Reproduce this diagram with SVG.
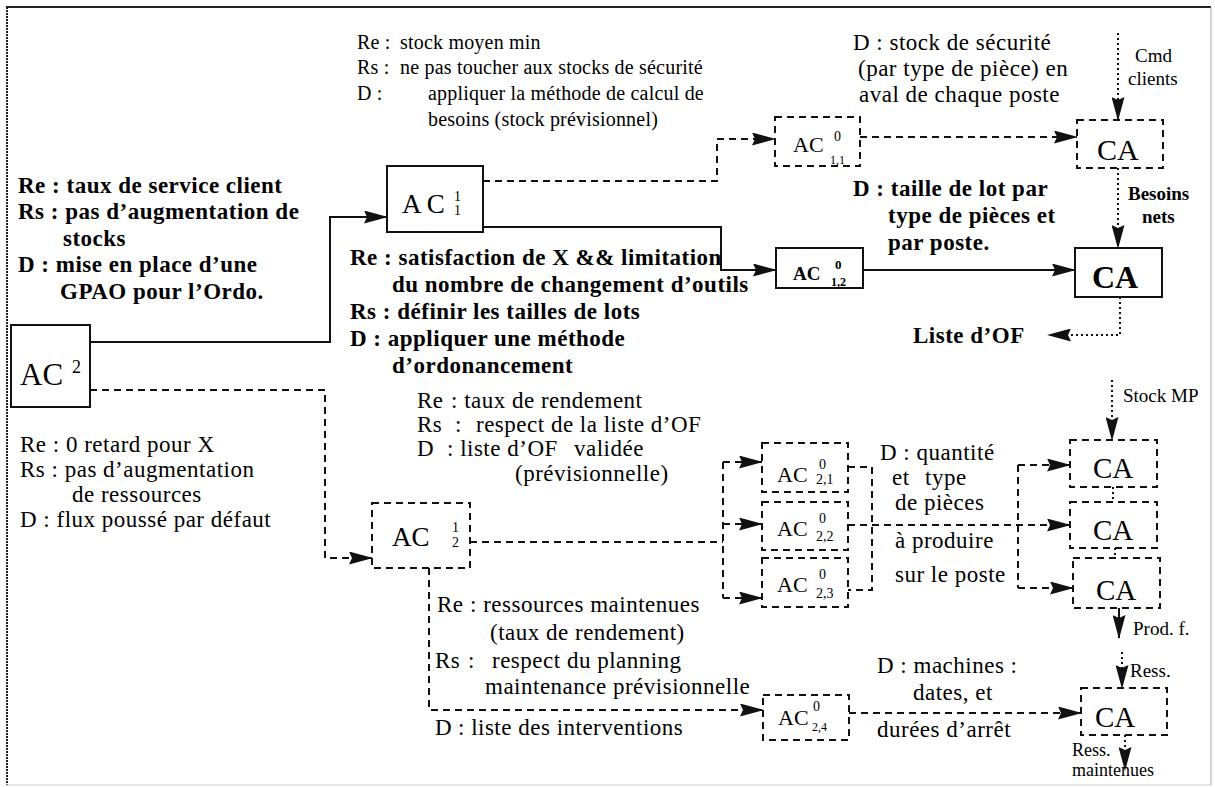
<svg xmlns="http://www.w3.org/2000/svg" width="1215" height="787" viewBox="0 0 1215 787">
<style>
text{font-family:"Liberation Serif","Times New Roman",serif;fill:#000}
.r20{font-size:20px;letter-spacing:0.2px}
.r23{font-size:23px;letter-spacing:0.5px}
.b23{font-size:23px;font-weight:bold;letter-spacing:0.5px}
.s19{font-size:19px}
.bs19{font-size:19px;font-weight:bold}
.s17{font-size:18px}
.sup{font-size:14px}
.bsup{font-size:13px;font-weight:bold}
.n{fill:#fff;stroke:#111;stroke-width:2}
.nd{fill:#fff;stroke:#111;stroke-width:2;stroke-dasharray:7 5}
.c{fill:none;stroke:#111;stroke-width:2}
.cd{fill:none;stroke:#111;stroke-width:2;stroke-dasharray:7 5}
.co{fill:none;stroke:#111;stroke-width:2;stroke-dasharray:2 3}
</style>
<defs>
<marker id="ah" viewBox="0 0 24 13" markerWidth="24" markerHeight="13" refX="23" refY="6.5" orient="auto" markerUnits="userSpaceOnUse">
<path d="M0,0 L24,6.5 L0,13 L3,6.5 z" fill="#111"/>
</marker>
</defs>
<rect width="1215" height="787" fill="#fff"/>
<g id="frame">
<line x1="6" y1="7" x2="1211" y2="7" stroke="#222" stroke-width="2"/>
<line x1="7" y1="7" x2="7" y2="785" stroke="#222" stroke-width="2" stroke-dasharray="2 1"/>
<line x1="1211" y1="7" x2="1211" y2="785" stroke="#aaa" stroke-width="1"/>
<line x1="6" y1="785" x2="1211" y2="785" stroke="#ccc" stroke-width="1"/>
</g>
<g id="connectors">
<path class="c" d="M90,342 H330 V217 H387" marker-end="url(#ah)"/>
<path class="cd" d="M483,181 H717 V139 H775" marker-end="url(#ah)"/>
<path class="c" d="M483,227 H721 V270 H776" marker-end="url(#ah)"/>
<path class="cd" d="M860,137 H1077" marker-end="url(#ah)"/>
<path class="c" d="M863,270 H1075" marker-end="url(#ah)"/>
<path class="co" d="M1118,33 V120" marker-end="url(#ah)"/>
<path class="co" d="M1118,168 V248" marker-end="url(#ah)"/>
<path class="co" d="M1120,297 V335 H1048" marker-end="url(#ah)"/>
<path class="cd" d="M90,390 H325 V558 H372" marker-end="url(#ah)"/>
<path class="cd" d="M470,542 H723"/>
<path class="cd" d="M723,462 V598"/>
<path class="cd" d="M723,462 H762" marker-end="url(#ah)"/>
<path class="cd" d="M723,524 H762" marker-end="url(#ah)"/>
<path class="cd" d="M723,598 H762" marker-end="url(#ah)"/>
<path class="cd" d="M848,467 H872 V590 H848"/>
<path class="cd" d="M848,525 H1070" marker-end="url(#ah)"/>
<path class="cd" d="M1018,465 V588"/>
<path class="cd" d="M1018,465 H1070" marker-end="url(#ah)"/>
<path class="cd" d="M1018,588 H1073" marker-end="url(#ah)"/>
<path class="co" d="M1112,380 V440" marker-end="url(#ah)"/>
<path class="co" d="M1113,487 V502"/>
<path class="co" d="M1115,548 V558"/>
<path class="c" d="M1119,608 V638" marker-end="url(#ah)"/>
<path class="co" d="M1122,652 V688" marker-end="url(#ah)"/>
<path class="co" d="M1125,735 V770" marker-end="url(#ah)"/>
<path class="cd" d="M429,568 V710 H763" marker-end="url(#ah)"/>
<path class="cd" d="M849,713 H1081" marker-end="url(#ah)"/>
</g>
<g id="AC2">
<rect class="n" x="11" y="325" width="79" height="82"/>
<text x="20" y="385" style="font-size:31px">AC</text>
<text x="72" y="373" style="font-size:18px">2</text>
</g>
<g id="AC11">
<rect class="n" x="387" y="166" width="96" height="66"/>
<text x="402" y="213" style="font-size:27px">A C</text>
<text x="454" y="201" class="sup">1</text>
<text x="454" y="215" class="sup">1</text>
</g>
<g id="AC011">
<rect class="nd" x="775" y="117" width="85" height="49"/>
<text x="793" y="152" style="font-size:22px">AC</text>
<text x="834" y="141" class="sup">0</text>
<text x="830" y="164" style="font-size:12px">1,1</text>
</g>
<g id="AC012">
<rect class="n" x="776" y="248" width="87" height="40"/>
<text x="793" y="280" style="font-size:19px;font-weight:bold">AC</text>
<text x="835" y="269" class="bsup">0</text>
<text x="831" y="286" style="font-size:12px;font-weight:bold">1,2</text>
</g>
<g id="CA_top">
<rect class="nd" x="1077" y="120" width="86" height="48"/>
<text x="1097" y="160" style="font-size:30px">CA</text>
</g>
<g id="CA_bold">
<rect class="n" x="1075" y="248" width="87" height="49"/>
<text x="1092" y="288" style="font-size:32px;font-weight:bold">CA</text>
</g>
<g id="AC12">
<rect class="nd" x="372" y="503" width="98" height="65"/>
<text x="392" y="546" style="font-size:27px">AC</text>
<text x="452" y="532" class="sup">1</text>
<text x="452" y="547" class="sup">2</text>
</g>
<g id="AC021">
<rect class="nd" x="762" y="443" width="86" height="49"/>
<text x="777" y="482" style="font-size:22px">AC</text>
<text x="819" y="469" class="sup">0</text>
<text x="816" y="484" class="sup">2,1</text>
</g>
<g id="AC022">
<rect class="nd" x="762" y="502" width="86" height="48"/>
<text x="777" y="536" style="font-size:22px">AC</text>
<text x="819" y="523" class="sup">0</text>
<text x="816" y="541" class="sup">2,2</text>
</g>
<g id="AC023">
<rect class="nd" x="762" y="558" width="86" height="49"/>
<text x="777" y="592" style="font-size:22px">AC</text>
<text x="819" y="579" class="sup">0</text>
<text x="816" y="598" class="sup">2,3</text>
</g>
<g id="AC024">
<rect class="nd" x="763" y="695" width="86" height="45"/>
<text x="778" y="725" style="font-size:22px">AC</text>
<text x="813" y="711" class="sup">0</text>
<text x="812" y="731" style="font-size:12px">2,4</text>
</g>
<g id="CA1">
<rect class="nd" x="1070" y="440" width="87" height="47"/>
<text x="1093" y="478" style="font-size:29px">CA</text>
</g>
<g id="CA2">
<rect class="nd" x="1070" y="502" width="87" height="46"/>
<text x="1093" y="540" style="font-size:29px">CA</text>
</g>
<g id="CA3">
<rect class="nd" x="1073" y="558" width="87" height="50"/>
<text x="1096" y="600" style="font-size:29px">CA</text>
</g>
<g id="CA4">
<rect class="nd" x="1081" y="688" width="86" height="47"/>
<text x="1095" y="727" style="font-size:29px">CA</text>
</g>
<g id="labels">
<text class="r20" x="357" y="49">Re :<tspan x="400">stock moyen min</tspan></text>
<text class="r20" x="357" y="74">Rs :<tspan x="400">ne pas toucher aux stocks de sécurité</tspan></text>
<text class="r20" x="357" y="100">D :<tspan x="428">appliquer la méthode de calcul de</tspan></text>
<text class="r20" x="428" y="126">besoins (stock prévisionnel)</text>

<text class="b23" x="18" y="193">Re : taux de service client</text>
<text class="b23" x="18" y="219">Rs : pas d’augmentation de</text>
<text class="b23" x="63" y="246">stocks</text>
<text class="b23" x="18" y="272">D : mise en place d’une</text>
<text class="b23" x="60" y="299">GPAO pour l’Ordo.</text>

<text class="b23" x="350" y="265">Re : satisfaction de X &amp;&amp; limitation</text>
<text class="b23" x="392" y="292">du nombre de changement d’outils</text>
<text class="b23" x="350" y="319">Rs : définir les tailles de lots</text>
<text class="b23" x="350" y="346">D : appliquer une méthode</text>
<text class="b23" x="392" y="373">d’ordonancement</text>

<text class="r23" x="853" y="50">D : stock de sécurité</text>
<text class="r23" x="858" y="76">(par type de pièce) en</text>
<text class="r23" x="859" y="102">aval de chaque poste</text>

<text class="b23" x="853" y="196">D : taille de lot par</text>
<text class="b23" x="888" y="223">type de pièces et</text>
<text class="b23" x="888" y="250">par poste.</text>

<text class="s19" x="1135" y="62">Cmd</text>
<text class="s19" x="1128" y="85">clients</text>
<text class="bs19" x="1128" y="200">Besoins</text>
<text class="bs19" x="1142" y="223">nets</text>
<text class="b23" x="913" y="343">Liste d’OF</text>

<text class="r23" x="20" y="452">Re : 0 retard pour X</text>
<text class="r23" x="20" y="477">Rs : pas d’augmentation</text>
<text class="r23" x="72" y="502">de ressources</text>
<text class="r23" x="20" y="527">D : flux poussé par défaut</text>

<text class="r23" x="417" y="408">Re<tspan x="451">: taux de rendement</tspan></text>
<text class="r23" x="417" y="432">Rs<tspan x="455">:</tspan><tspan x="476">respect de la liste d’OF</tspan></text>
<text class="r23" x="417" y="456">D<tspan x="447">: liste d’OF</tspan><tspan x="574">validée</tspan></text>
<text class="r23" x="515" y="481">(prévisionnelle)</text>

<text class="r23" x="880" y="460">D : quantité</text>
<text class="r23" x="892" y="485">et<tspan x="925">type</tspan></text>
<text class="r23" x="895" y="510">de pièces</text>
<text class="r23" x="895" y="548">à produire</text>
<text class="r23" x="895" y="582">sur le poste</text>

<text class="s19" x="1123" y="402">Stock MP</text>
<text class="s19" x="1133" y="635">Prod. f.</text>
<text class="s19" x="1130" y="677">Ress.</text>
<text class="s17" x="1072" y="756">Ress.</text>
<text class="s17" x="1072" y="776">maintenues</text>

<text class="r23" x="437" y="612">Re<tspan x="470">: ressources maintenues</tspan></text>
<text class="r23" x="490" y="640">(taux de rendement)</text>
<text class="r23" x="435" y="668">Rs<tspan x="468">:</tspan><tspan x="492">respect du planning</tspan></text>
<text class="r23" x="485" y="694">maintenance prévisionnelle</text>
<text class="r23" x="435" y="735">D<tspan x="458">: liste des interventions</tspan></text>

<text class="r23" x="877" y="673">D : machines :</text>
<text class="r23" x="913" y="700">dates, et</text>
<text class="r23" x="877" y="737">durées d’arrêt</text>
</g>
</svg>
